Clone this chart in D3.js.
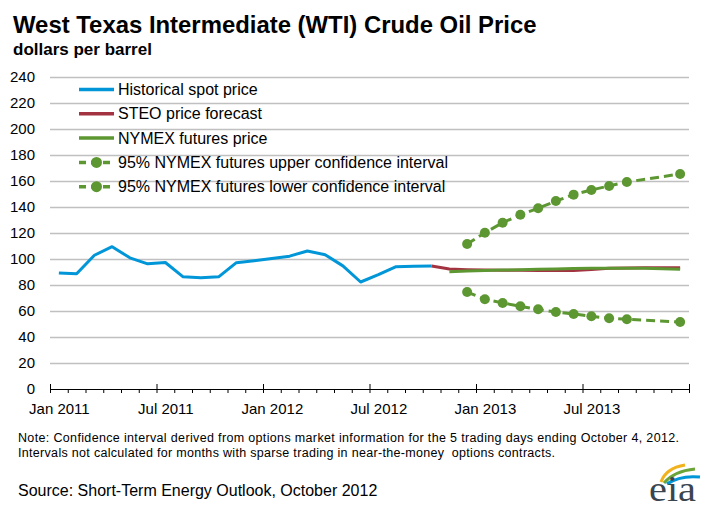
<!DOCTYPE html>
<html><head><meta charset="utf-8">
<script src="https://cdn.jsdelivr.net/npm/d3@7"></script>
<style>
html,body{margin:0;padding:0;background:#fff;}
svg{display:block;font-family:"Liberation Sans",Arial,sans-serif;}
</style></head>
<body>
<svg id="c" width="704" height="510"></svg>
<script>
// ---------------- data ----------------
const title = "West Texas Intermediate (WTI) Crude Oil Price";
const subtitle = "dollars per barrel";
const noteLines = [
  "Note: Confidence interval derived from options market information for the 5 trading days ending October 4, 2012.",
  "Intervals not calculated for months with sparse trading in near-the-money  options contracts."
];
const sourceText = "Source: Short-Term Energy Outlook, October 2012";

const axisStart = "2011-01";
const axisMonths = 36;
const xTickLabels = ["Jan 2011", "Jul 2011", "Jan 2012", "Jul 2012", "Jan 2013", "Jul 2013"];
const yTicks = [0, 20, 40, 60, 80, 100, 120, 140, 160, 180, 200, 220, 240];

const historicalStart = "2011-01";
const historical = [89.2, 88.6, 102.9, 109.5, 100.9, 96.3, 97.3, 86.3, 85.5, 86.3, 97.2, 98.6,
                    100.3, 102.2, 106.2, 103.3, 94.7, 82.3, 87.9, 94.1, 94.5, 94.6];

const steoStart = "2012-10";
const steo = [94.6, 92.3, 91.8, 91.5, 91.4, 91.3, 91.2, 91.2, 91.2, 92.0, 92.8, 93.0, 93.2, 93.3, 93.3];

const nymexStart = "2012-11";
const nymex = [90.2, 90.8, 91.2, 91.5, 91.8, 92.1, 92.4, 92.6, 92.8, 92.8, 92.8, 92.8, 92.5, 92.1];

const ciDates = ["2012-12", "2013-01", "2013-02", "2013-03", "2013-04", "2013-05",
                 "2013-06", "2013-07", "2013-08", "2013-09", "2013-12"];
const ciUpper = [111.5, 120.2, 127.9, 134.1, 139.0, 144.6, 149.5, 153.1, 156.2, 159.2, 165.4];
const ciLower = [74.6, 69.0, 66.2, 63.6, 61.3, 59.2, 57.7, 55.9, 54.4, 53.6, 51.5];

const legendLabels = [
  "Historical spot price",
  "STEO price forecast",
  "NYMEX futures price",
  "95% NYMEX futures upper confidence interval",
  "95% NYMEX futures lower confidence interval"
];

// ---------------- styles ----------------
const BLUE = "#0096D7", RED = "#A33340", GREEN = "#5D9732", GRID = "#C0C0C0";

// ---------------- helpers ----------------
function monthIndex(s) {
  const [yy, mm] = s.split("-").map(Number);
  const [y0, m0] = axisStart.split("-").map(Number);
  return (yy - y0) * 12 + (mm - m0);
}
function series(start, vals) {
  const s = monthIndex(start);
  return vals.map((v, i) => ({ m: s + i, v }));
}

const svg = d3.select("#c");
const x = d3.scaleLinear().domain([0, axisMonths]).range([50, 689]);
const y = d3.scaleLinear().domain([0, 240]).range([389, 77]);

// titles
svg.append("text").attr("x", 13).attr("y", 33).attr("font-size", 23.9).attr("font-weight", "bold")
  .attr("fill", "#000").text(title);
svg.append("text").attr("x", 13).attr("y", 55).attr("font-size", 17).attr("font-weight", "bold")
  .attr("fill", "#000").text(subtitle);

// gridlines
const grid = svg.append("g").attr("transform", `translate(${x(0)},0)`)
  .call(d3.axisLeft(y).tickValues(yTicks.filter(d => d > 0)).tickSize(-(x(axisMonths) - x(0))).tickFormat(""));
grid.select(".domain").remove();
grid.selectAll("line").attr("stroke", GRID).attr("stroke-width", 1.3);

// y labels
const yl = svg.append("g").attr("transform", `translate(${x(0)},0)`)
  .call(d3.axisLeft(y).tickValues(yTicks).tickSize(0).tickPadding(15));
yl.select(".domain").remove();
yl.selectAll("text").attr("font-size", 15).attr("font-family", "Liberation Sans, Arial, sans-serif").attr("fill", "#000");

// x axis: minor ticks
const minor = d3.range(0, axisMonths + 1).filter(d => d % 6 !== 0);
const xm = svg.append("g").attr("transform", `translate(0,${y(0)})`)
  .call(d3.axisBottom(x).tickValues(minor).tickSizeInner(4).tickSizeOuter(0).tickFormat(""));
xm.selectAll("line").attr("stroke", "#000");
xm.select(".domain").attr("stroke", "#000");
// major ticks
const major = d3.range(0, axisMonths + 1, 6);
const xM = svg.append("g").attr("transform", `translate(0,${y(0)})`)
  .call(d3.axisBottom(x).tickValues(major).tickSizeInner(4).tickSizeOuter(0).tickFormat(""));
xM.select(".domain").remove();
xM.selectAll("line").attr("y1", -5).attr("stroke", "#000");
// labels centred on the month
const xl = svg.append("g").attr("transform", `translate(0,${y(0)})`)
  .call(d3.axisBottom(x).tickValues(major.slice(0, xTickLabels.length).map(d => d + 0.5))
    .tickSize(0).tickPadding(14).tickFormat((d, i) => xTickLabels[i]));
xl.select(".domain").remove();
xl.selectAll("text").attr("font-size", 15).attr("font-family", "Liberation Sans, Arial, sans-serif").attr("fill", "#000");

// lines
const line = d3.line().x(d => x(d.m + 0.5)).y(d => y(d.v));
function drawLine(data, color, dash) {
  svg.append("path").datum(data).attr("d", line).attr("fill", "none")
    .attr("stroke", color).attr("stroke-width", 3).attr("stroke-linejoin", "round")
    .attr("stroke-dasharray", dash || null);
}
drawLine(series(historicalStart, historical), BLUE);
drawLine(series(steoStart, steo), RED);
drawLine(series(nymexStart, nymex), GREEN);

[ciUpper, ciLower].forEach(arr => {
  const data = ciDates.map((d, i) => ({ m: monthIndex(d), v: arr[i] }));
  drawLine(data, GREEN, "9,5");
  svg.append("g").selectAll("circle").data(data).join("circle")
    .attr("cx", d => x(d.m + 0.5)).attr("cy", d => y(d.v)).attr("r", 5).attr("fill", GREEN);
});

// legend
const legColors = [BLUE, RED, GREEN, GREEN, GREEN];
const leg = svg.append("g");
legendLabels.forEach((lab, i) => {
  const ly = 89.5 + i * 24.3;
  const dashed = i >= 3;
  leg.append("line").attr("x1", 79).attr("x2", 114).attr("y1", ly).attr("y2", ly)
    .attr("stroke", legColors[i]).attr("stroke-width", 3.5)
    .attr("stroke-dasharray", dashed ? "7,5" : null);
  if (dashed) leg.append("circle").attr("cx", 96.5).attr("cy", ly).attr("r", 5.5).attr("fill", legColors[i]);
  leg.append("text").attr("x", 118).attr("y", ly).attr("dy", "0.35em").attr("font-size", 16)
    .attr("fill", "#000").text(lab);
});

// notes
const noteWidths = [661, 537];
noteLines.forEach((t, i) => {
  svg.append("text").attr("x", 18).attr("y", 442 + i * 15).attr("font-size", 12.5)
    .attr("fill", "#000").style("white-space", "pre")
    .attr("textLength", noteWidths[i]).attr("lengthAdjust", "spacing").text(t);
});
svg.append("text").attr("x", 18).attr("y", 496).attr("font-size", 16).attr("fill", "#000").text(sourceText);

// eia logo
const logo = svg.append("g");
logo.append("path").attr("d", "M661,482 Q666,468 685,465").attr("fill", "none").attr("stroke", "#F2B21C").attr("stroke-width", 3);
logo.append("path").attr("d", "M664,483 Q674,471 695,469").attr("fill", "none").attr("stroke", "#6BA539").attr("stroke-width", 3);
logo.append("path").attr("d", "M667,484 Q680,475 700,477").attr("fill", "none").attr("stroke", "#0096D7").attr("stroke-width", 3);
logo.append("text").attr("x", 649).attr("y", 501).attr("font-size", 36)
  .attr("textLength", 47).attr("lengthAdjust", "spacingAndGlyphs")
  .attr("font-family", "Liberation Serif, Times New Roman, serif").attr("fill", "#3A4550").text("eia");
</script>
</body></html>
